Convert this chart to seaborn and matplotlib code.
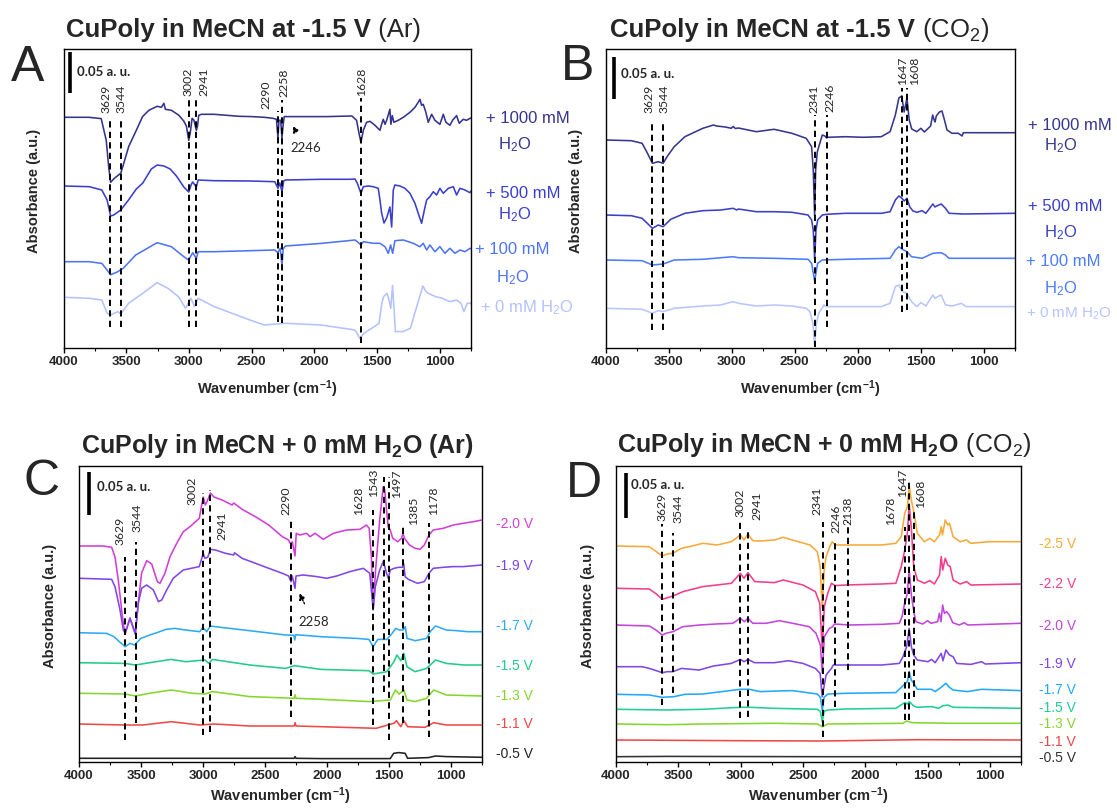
import matplotlib
matplotlib.use("Agg")
import matplotlib.pyplot as plt
import pandas as pd
import seaborn as sns

# ------------------------------------------------------------------ data
UNIT = 0.05 / 42.0          # a.u. per stored unit (0.05 a.u. scale bar = 42 units)
XTICKS = [4000, 3500, 3000, 2500, 2000, 1500, 1000]
XMINOR = [3750, 3250, 2750, 2250, 1750, 1250, 750]

# ---- Panel A : -1.5 V, Ar, water series
A_names = ["+ 1000 mM", "+ 500 mM", "+ 100 mM", "+ 0 mM"]
A_baselines = [230.7, 162, 86.3, 50.7]
A_colors = ["#34348f", "#3a3fcc", "#4f74f2", "#b4c2ff"]
A_1000 = [(4000,0),(3800,0),(3700,-1.3),(3660,-23),(3640,-50),(3625,-65),(3595,-61),(3565,-58),(3544,-56),(3520,-46),
          (3480,-29),(3420,-13),(3370,0.7),(3320,7),(3254,11),(3220,10),(3200,14),(3188,8),(3140,7),(3080,2),(3040,-4),
          (3020,-9),(3002,-23),(2990,-16),(2975,-1),(2960,-3),(2941,-13),(2932,-9),(2922,2),(2900,3),(2800,3),(2700,2),
          (2600,1),(2500,0.7),(2400,0),(2330,-1),(2302,-2),(2290,-21),(2282,-3),(2268,-3),(2258,-21),(2250,-9),(2240,0.7),
          (2100,0.7),(1900,0.7),(1700,1.3),(1663,-3),(1645,-15),(1628,-25),(1609,-13),(1583,-5),(1556,-4),(1516,-8),
          (1476,-13),(1463,-7),(1450,-2),(1436,-7),(1423,-3),(1397,8),(1389,-7),(1378,1.7),(1365,-5),(1330,-3),(1290,0),
          (1237,5),(1197,10),(1171,15),(1157,18),(1144,12),(1131,13),(1110,5),(1091,-5),(1064,3),(1038,-3),(998,-7),
          (971,3),(950,-5),(918,-8),(897,-3),(865,1.7),(844,-6),(812,-2),(785,-3),(758,-1),(750,-1)]
A_500 = [(4000,0),(3795,-0.7),(3695,-4),(3653,-14),(3625,-30),(3600,-29),(3567,-26),(3544,-24),(3482,-14),(3420,-3),
         (3368,3),(3300,17),(3254,21),(3200,20),(3150,17),(3100,10),(3041,-1),(3002,-6),(2980,2),(2970,4),(2941,-1),
         (2927,6),(2799,5.3),(2514,5),(2315,4.3),(2290,-2.3),(2275,3),(2258,-5.7),(2244,5),(2230,6),(1945,6.7),(1716,6.7),
         (1675,7),(1657,2.7),(1628,-7.3),(1609,-0.7),(1569,0),(1530,-0.7),(1490,-2.3),(1476,-14),(1463,-27),(1444,-37),
         (1423,-32),(1397,-21),(1383,-41),(1370,-4),(1357,1),(1317,0),(1277,-2.3),(1237,-7.3),(1197,-17.3),(1171,-27.3),
         (1144,-37.3),(1125,-25.7),(1104,-14),(1078,-10.7),(1051,-5.7),(1024,-9),(998,-2.3),(971,-7.3),(931,-2.3),
         (891,-0.7),(865,-9),(838,-2.3),(798,-4),(758,-6.7),(750,-5)]
A_100 = [(4000,0),(3795,0),(3695,-1.7),(3653,-8.3),(3625,-13),(3567,-10),(3544,-8),(3525,-6.7),(3425,6.7),(3254,19),
         (3140,15),(3041,5),(3002,1.7),(2970,9),(2941,3.3),(2927,10),(2799,10),(2514,11),(2315,11.7),(2290,9),(2272,13.3),
         (2258,-3.3),(2248,13),(2230,15.7),(1945,18.3),(1675,21.7),(1657,20),(1628,16.7),(1609,20),(1530,18.4),
         (1476,18.4),(1436,15),(1410,8.4),(1391,16.7),(1375,8.4),(1357,21),(1290,21.7),(1211,18.4),(1157,15),(1131,18.4),
         (1104,11.7),(1078,16.7),(1038,10),(998,15),(958,8.4),(918,13.4),(878,8.4),(838,11.7),(798,10),(758,13.4),(750,13)]
A_0 = [(4000,0),(3795,-1),(3695,-2.7),(3653,-16),(3625,-17.7),(3567,-14.3),(3544,-16.7),(3482,-6),(3368,4),(3254,14.7),
       (3168,9),(3084,0.7),(3027,-11),(2984,-1),(2956,-9.3),(2927,-1),(2799,-9.3),(2657,-16),(2514,-22.7),(2400,-27.7),
       (2230,-26),(1945,-27.7),(1675,-32.7),(1638,-41),(1604,-36),(1518,-29),(1484,-26),(1460,-5),(1447,0.7),(1419,4),
       (1400,-5),(1390,-11),(1376,12),(1360,-20),(1353,-34.3),(1291,-34.3),(1234,-31),(1191,-12.7),(1134,11.3),(1110,6),
       (1091,4),(1034,0.7),(978,-1),(921,-4.3),(864,-2.7),(830,-6),(807,-14.3),(780,-6),(750,-6)]
A_lines = [3629, 3544, 3002, 2941, 2290, 2258, 1628]
A_line_top = [228, 228, 250, 250, 237, 248, 250]
A_line_bot = [21, 21, 21, 21, 26, 25, 5]
A_lab_x = [3661, 3544, 3005, 2884, 2386, 2244, 1626]
A_lab_y = [235, 235, 252, 252, 239, 251, 252]

# ---- Panel B : -1.5 V, CO2, water series
B_names = ["+ 1000 mM", "+ 500 mM", "+ 100 mM", "+ 0 mM"]
B_baselines = [208, 133, 88, 39.7]
B_colors = ["#36368f", "#3b40c6", "#4c7cff", "#b9c5ff"]
B_1000 = [(4000,0),(3796,-0.7),(3711,-3.3),(3668,-13.3),(3629,-23.3),(3583,-21.7),(3544,-23.3),(3513,-16.7),(3456,-6.7),
          (3371,3.3),(3229,11.7),(3144,15),(3120,14),(3050,13),(3003,11.7),(2988,13.5),(2970,11.5),(2946,12),(2804,8.3),
          (2663,10.7),(2521,6.7),(2408,1.7),(2365,-6.7),(2352,-30),(2341,-76),(2333,-30),(2320,-12),(2300,-3.3),(2280,5),
          (2260,4),(2246,2),(2238,2.7),(2096,3.3),(1954,2.7),(1812,3.3),(1742,8.3),(1700,25),(1672,42),(1650,44),
          (1630,28),(1608,42),(1590,20),(1570,11),(1530,8.3),(1497,11.7),(1470,8),(1420,14),(1404,25),(1392,20),
          (1385,18),(1375,24),(1350,28),(1330,29),(1310,20),(1290,10),(1250,6.7),(1200,6.7),(1170,4),(1160,7.3),
          (1104,7.3),(962,7.3),(750,7.3)]
B_500 = [(4000,0),(3796,-0.7),(3711,-3.3),(3629,-13.3),(3583,-10),(3544,-11.7),(3484,-4.3),(3371,1.7),(3229,4.3),
         (3088,5),(2988,6.7),(2960,5),(2946,6),(2804,3.3),(2663,3.3),(2521,2.7),(2393,0),(2365,-5),(2352,-15),(2341,-44),
         (2330,-15),(2317,-5),(2280,0),(2246,0.7),(2096,1.7),(1812,1.7),(1742,3.3),(1700,15),(1672,19),(1650,17),
         (1630,14),(1608,16.7),(1585,8),(1560,4),(1529,2.7),(1487,4.3),(1458,1.7),(1402,11),(1385,8),(1373,9),
         (1336,11),(1302,6.7),(1274,1.7),(1161,1),(750,1.7)]
B_100 = [(4000,0),(3711,-0.7),(3629,-5),(3544,-4),(3456,0),(3229,0.7),(2988,3.3),(2946,2.3),(2663,1.7),(2393,0.7),
         (2365,-3.3),(2341,-21),(2317,-3.3),(2280,0),(2096,0.7),(1742,1.7),(1700,10),(1672,13.3),(1645,10.7),(1608,8.3),
         (1572,3.3),(1487,1.7),(1402,6.7),(1336,7.3),(1302,5),(1274,1.7),(750,1.7)]
B_0 = [(4000,0),(3711,-1),(3629,-5),(3583,-2.3),(3544,-3.3),(3456,0),(3229,2.3),(3088,3.3),(2988,6.7),(2946,5),
       (2804,2.3),(2663,3.3),(2521,2.3),(2408,0),(2379,-3.3),(2355,-15),(2341,-37),(2327,-15),(2308,-5),(2266,3.3),
       (2252,1.7),(2096,1.7),(1812,1.7),(1742,5),(1700,21.7),(1672,23.3),(1645,16.7),(1608,15),(1572,6.7),(1529,1.7),
       (1497,5.7),(1458,2.3),(1402,13.3),(1385,10),(1373,11),(1336,13.3),(1302,3.3),(1246,2.3),(1175,5),(1140,1.7),
       (750,1.7)]
B_lines = [3629, 3544, 2341, 2246, 1647, 1608]
B_line_top = [225, 225, 233, 233, 260, 260]
B_line_bot = [18, 18, 1, 21, 36, 38]
B_lab_x = [3654, 3535, 2345, 2223, 1647, 1551]
B_lab_y = [235, 235, 235, 236, 263, 263]

# ---- Panel C : 0 mM H2O, Ar, potential series
C_names = ["-2.0 V", "-1.9 V", "-1.7 V", "-1.5 V", "-1.3 V", "-1.1 V", "-0.5 V"]
C_baselines = [216, 183.7, 129.3, 99.3, 68.7, 38, 3.7]
C_colors = ["#d23fd6", "#8046e6", "#2eaaf2", "#22cc8a", "#86d62e", "#f04848", "#222222"]
C_20 = [(4000,0),(3804,0),(3737,-1.3),(3710,-10.7),(3683,-34),(3656,-64),(3640,-80),(3627,-87),(3589,-72),(3546,-87),
        (3522,-57),(3495,-27),(3454,-14.7),(3414,-18),(3368,-35.7),(3347,-37.3),(3307,-27.3),(3266,-10.7),(3212,2.7),
        (3159,14.3),(3105,19.3),(3030,27.7),(3012,40),(2998,49),(2982,41),(2962,46),(2940,53),(2912,49),(2846,46),
        (2765,41),(2752,43),(2685,36.7),(2577,29.3),(2470,21),(2360,9.3),(2310,6),(2290,1),(2280,4.3),(2258,-10),
        (2248,12.7),(2218,11),(2164,12.7),(2137,9.3),(2097,12.7),(2030,6.7),(1949,12.7),(1842,16),(1734,16.7),(1682,21),
        (1660,17.7),(1642,-10.7),(1634,-45),(1626,-60),(1608,-24),(1575,26),(1547,59.3),(1534,56),(1520,36),(1507,19.3),
        (1490,16),(1470,7.7),(1430,4.3),(1400,7.7),(1387,12.7),(1375,7.7),(1335,1),(1290,-2.3),(1250,-3.3),(1215,1),
        (1178,11),(1143,16),(1062,17.7),(981,21),(901,22.7),(820,24.3),(750,26)]
C_19 = [(4000,0),(3737,-1),(3710,-8.3),(3669,-31.7),(3643,-51.7),(3627,-55),(3589,-40),(3546,-56),(3522,-25),(3495,-10),
        (3454,-6.7),(3400,-11.7),(3360,-23.3),(3333,-21.7),(3293,-11.7),(3240,0),(3159,8.3),(3030,11.7),(3010,20),
        (2998,25),(2985,20),(2962,21),(2940,29),(2900,28.3),(2819,25),(2752,23.3),(2746,25.5),(2685,20),(2577,15),
        (2470,10),(2360,5),(2310,2.3),(2290,-3.3),(2280,2.3),(2258,-10),(2250,2.3),(2191,3.3),(2083,1.7),(2002,0),
        (1922,2.3),(1815,6.7),(1707,10),(1655,5),(1640,-15),(1628,-31.7),(1610,-8.3),(1575,8.3),(1547,16.7),(1534,11.7),
        (1520,5),(1505,0),(1490,8.3),(1460,10),(1420,11),(1392,11),(1382,15),(1370,1.7),(1345,-1),(1270,-5),(1215,-3.3),
        (1178,5),(1143,10),(1062,11),(981,11.7),(901,11.7),(750,13.3)]
C_17 = [(4000,0),(3775,-0.7),(3718,-4),(3674,-9),(3629,-14),(3588,-10.7),(3551,-12.3),(3502,-5.7),(3430,-2.3),(3372,0),
        (3300,3.3),(3228,4.3),(3141,2.7),(3026,1),(3002,5.3),(2970,1),(2941,6.7),(2853,5.3),(2623,2),(2335,-2.3),
        (2268,-2.5),(2260,-7.3),(2252,-2),(2047,-4),(1759,-5.7),(1662,-6.7),(1628,-14),(1590,-6.7),(1518,-6.7),
        (1475,-0.7),(1446,4.3),(1417,2.7),(1388,2.7),(1368,6),(1355,-5.7),(1288,-8),(1197,-5.7),(1168,1),(1125,6.7),
        (1038,2.7),(952,2),(865,1),(750,1)]
C_15 = [(4000,0),(3631,-0.7),(3545,-2.3),(3430,0),(3257,3.3),(3141,1),(2983,2.7),(2954,-0.7),(2925,3.3),(2623,-2.3),
        (2335,-5.7),(2262,-3),(2047,-6.7),(1662,-8),(1628,-11.3),(1518,-9),(1460,1),(1436,7.7),(1405,2),(1380,9.3),
        (1355,-4),(1290,-9),(1197,-5.7),(1125,2.7),(1038,-0.7),(894,-2.3),(750,-2.3)]
C_13 = [(4000,0),(3631,-0.7),(3545,-2.7),(3430,0),(3257,3.3),(3084,0),(2983,-0.7),(2925,1.7),(2623,-3.3),(2265,-5),
        (2257,-1.5),(2250,-5),(2047,-6),(1662,-8.3),(1490,-6.7),(1448,3.3),(1418,-0.7),(1380,3.3),(1355,-6.7),
        (1290,-8.3),(1197,-5),(1139,3.3),(1038,-1.7),(750,-2.7)]
C_11 = [(4000,0),(3631,-1),(3486,-1),(3257,2.3),(3026,-1),(2910,0),(2623,-2),(2265,-2),(2257,1.3),(2250,-2),(2047,-2.7),
        (1604,-4.3),(1460,0.7),(1440,3.3),(1405,-2.7),(1380,3.3),(1350,-2.7),(1211,-3.3),(1139,1.3),(1038,-1),(750,-1)]
C_05 = [(4000,0),(2910,0),(2265,0),(2257,1.7),(2250,0),(2047,-0.3),(1490,-0.3),(1462,5),(1420,5.7),(1370,5),(1350,0),
        (1182,0.7),(1125,2.3),(1038,1.7),(750,1)]
C_lines = [3629, 3544, 3002, 2941, 2290, 1628, 1543, 1497, 1385, 1178]
C_line_top = [205, 220, 269, 272, 242, 252, 285, 285, 237, 239]
C_line_bot = [22, 39, 27, 30, 45, 37, 70, 22, 39, 25]
C_lab_x = [3669, 3536, 3091, 2847, 2330, 1749, 1624, 1443, 1304, 1138]
C_lab_y = [217, 230, 257, 222, 247, 247, 265, 264, 237, 247]

# ---- Panel D : 0 mM H2O, CO2, potential series
D_names = ["-2.5 V", "-2.2 V", "-2.0 V", "-1.9 V", "-1.7 V", "-1.5 V", "-1.3 V", "-1.1 V", "-0.5 V"]
D_baselines = [216, 173.7, 137, 95.3, 67.7, 52.7, 38, 22, 5.3]
D_colors = ["#f7a93a", "#f23e8c", "#c445dc", "#8046e6", "#22a8ff", "#1fd091", "#86d62e", "#f04848", "#333333"]
D_25 = [(4000,0),(3733,-0.7),(3676,-5.7),(3629,-10),(3590,-8),(3544,-7.3),(3475,-2.3),(3389,0),(3303,2.7),(3188,1),
        (3074,4.3),(3002,11),(2973,6),(2941,12),(2902,5.3),(2844,5),(2729,6),(2658,8.7),(2586,6),(2443,1),(2385,-5.7),
        (2362,-20),(2345,-62),(2330,-25),(2314,-10.7),(2285,-0.7),(2265,4.3),(2242,1),(2156,1),(2013,1),(1869,1),
        (1754,2.7),(1711,9.3),(1683,32.7),(1662,39),(1647,60),(1630,46),(1608,32.7),(1582,12.7),(1525,4.3),(1482,7.7),
        (1445,4.3),(1404,11),(1390,19.3),(1380,11),(1358,26),(1338,21),(1324,22.7),(1295,9.3),(1238,4.3),(1187,6),
        (1152,2.7),(1009,4.3),(750,4.3)]
D_22 = [(4000,0),(3733,-0.7),(3676,-5.7),(3629,-11),(3576,-9),(3544,-7.7),(3461,-3.3),(3303,1.7),(3074,5),(3002,15),
        (2973,10),(2941,15.7),(2887,6.7),(2729,5.7),(2658,8.3),(2500,3.3),(2400,-3.3),(2365,-15),(2345,-60),(2328,-18),
        (2299,-4.3),(2271,5),(2242,2.7),(2156,3.3),(1869,4.3),(1754,5),(1711,21.7),(1683,38),(1662,55),(1647,84),
        (1630,60),(1611,21.7),(1582,8.3),(1525,5),(1482,7.7),(1445,4.3),(1404,13.3),(1390,31.7),(1378,18.3),(1358,30),
        (1338,23.3),(1318,21.7),(1295,8.3),(1238,4.3),(1187,6.7),(1152,3.3),(750,4.3)]
D_20 = [(4000,0),(3733,-1),(3679,-5),(3629,-10),(3599,-8.3),(3544,-6.7),(3465,-1.7),(3331,0),(3198,1),(3064,1.7),
        (3002,6.7),(2970,3.3),(2941,6.7),(2903,1.7),(2796,1.7),(2689,4.3),(2582,1.7),(2449,-1.7),(2395,-8.3),(2360,-20),
        (2345,-48),(2328,-11.7),(2288,-3.3),(2261,-1.7),(2248,1),(2128,0),(1860,0.7),(1726,1.7),(1705,8.3),(1684,21.7),
        (1665,30),(1647,55),(1630,30),(1608,11.7),(1593,3.3),(1539,1),(1499,4.3),(1472,1.7),(1419,3.3),(1405,11.7),
        (1392,3.3),(1379,20),(1365,11.7),(1347,13.3),(1325,10),(1298,2.3),(1245,0),(1205,2.3),(1178,0),(750,1.7)]
D_19 = [(4000,0),(3791,0),(3733,-1.7),(3676,-4),(3629,-6),(3590,-5),(3544,-5),(3475,-1.7),(3389,-2.7),(3332,-3.3),
        (3217,0.7),(3074,3.3),(3002,7.3),(2973,5),(2941,7.3),(2887,4),(2729,4),(2615,6),(2500,3.3),(2400,-1.7),
        (2362,-6.7),(2345,-30),(2314,-8.3),(2271,-1.7),(2256,1.7),(2156,1.7),(1869,1.7),(1726,3.3),(1697,10),(1668,20),
        (1647,38.3),(1630,20),(1611,11.7),(1582,6.7),(1496,5),(1468,7.3),(1439,4),(1390,13.3),(1376,6),(1353,16.7),
        (1324,11.7),(1295,10),(1267,3.3),(1152,2.3),(1066,5),(1037,2.7),(750,4)]
D_17 = [(4000,0),(3733,-0.7),(3629,-3),(3532,-2.3),(3446,0),(3303,0.3),(3002,5),(2930,5),(2844,2.7),(2586,3.7),
        (2385,0.3),(2360,-3),(2345,-16),(2330,-3),(2299,0.3),(2156,1),(1754,1.7),(1691,9.3),(1662,12.7),(1647,22.7),
        (1630,14),(1611,11),(1582,5),(1468,5),(1439,2.7),(1390,7),(1353,11),(1324,7),(1295,4.3),(1181,2.7),(1066,5),
        (750,3.7)]
D_15 = [(4000,0),(3590,-0.7),(3303,0),(3002,2),(2930,2),(2729,1),(2385,0),(2360,-2),(2345,-12.3),(2330,-2),(2299,-0.7),
        (2156,0.3),(1754,1),(1683,6.7),(1662,5.3),(1647,7.7),(1611,3.3),(1582,2),(1468,2.7),(1410,1),(1382,3.3),
        (1338,4.3),(1295,2),(750,1)]
D_13 = [(4000,0),(3590,-0.7),(3303,0),(2729,0.7),(2385,0),(2345,-2.7),(2299,0),(1697,0.7),(1668,3),(1625,1.3),
        (1295,0.7),(750,0.7)]
D_11 = [(4000,0),(3000,-0.7),(2345,-1),(1582,0.3),(750,0)]
D_05 = [(4000,0),(3590,0.3),(2345,0),(750,0)]
D_lines = [3629, 3544, 3002, 2941, 2341, 2246, 2138, 1678, 1647, 1608]
D_line_top = [238, 229, 240, 230, 240, 220, 240, 235, 282, 254]
D_line_bot = [57, 69, 44, 45, 25, 55, 92, 42, 42, 65]
D_lab_x = [3629, 3501, 3002, 2869, 2390, 2235, 2138, 1793, 1704, 1559]
D_lab_y = [241, 239, 245, 242, 247, 229, 237, 237, 265, 254]

# ------------------------------------------------------------------ style
sns.set_theme(style="white")
plt.rcParams["font.family"] = ["Liberation Sans", "DejaVu Sans"]
plt.rcParams["mathtext.default"] = "regular"

W, H = 1117, 808
fig = plt.figure(figsize=(W / 100, H / 100), dpi=100)
fig.patch.set_facecolor("white")


def fx(px):
    return px / W


def fy(py):
    return 1 - py / H


def panel(rect, names, baselines, colors, traces, height, lines, ltop, lbot, labx, laby,
          bar_x, bar_y0, bar_y1, bar_lab, ylab_x, ylab_y, xlab_y):
    ax = fig.add_axes(rect)
    rows = []
    for name, base, pts in zip(names, baselines, traces):
        for wn, d in pts:
            rows.append((name, wn, (base + d) * UNIT))
    df = pd.DataFrame(rows, columns=["trace", "wn", "absorbance"])
    sns.lineplot(data=df, x="wn", y="absorbance", hue="trace", hue_order=names,
                 palette=dict(zip(names, colors)), estimator=None, sort=False,
                 legend=False, linewidth=1.15, ax=ax)
    ax.set_xlim(4000, 750)
    ax.set_ylim(0, height * UNIT)
    ax.vlines(lines, [b * UNIT for b in lbot], [t * UNIT for t in ltop], colors="black",
              linestyles=(0, (3.2, 2.2)), linewidth=1.4, zorder=4)
    for wn, x, y in zip(lines, labx, laby):
        ax.text(x, y * UNIT, str(wn), rotation=90, ha="center", va="bottom", fontsize=8.8,
                family=["Lato", "DejaVu Sans"], zorder=5)
    ax.plot([bar_x, bar_x], [bar_y0 * UNIT, bar_y1 * UNIT], color="black", lw=2.6,
            solid_capstyle="butt")
    ax.text(bar_lab[0], bar_lab[1] * UNIT, "0.05 a. u.", fontsize=9.5, weight="bold",
            family=["Lato", "DejaVu Sans"], ha="left", va="center")
    ax.set_yticks([])
    ax.set_xticks(XTICKS, labels=[str(t) for t in XTICKS], fontweight="bold", fontsize=9.5)
    ax.set_xticks(XMINOR, minor=True)
    ax.tick_params(axis="x", which="major", direction="out", length=3.5, width=1,
                   color="black", pad=2.5, bottom=True)
    ax.tick_params(axis="x", which="minor", direction="out", length=2, width=0.8,
                   color="black", bottom=True)
    for s in ax.spines.values():
        s.set_color("black")
        s.set_linewidth(1.0)
    ax.set_xlabel("Wavenumber (cm$^{-1}$)", fontsize=10.5, weight="bold")
    ax.xaxis.label.set_va("center")
    ax.xaxis.set_label_coords(0.5, xlab_y)
    ax.set_ylabel("Absorbance (a.u.)", fontsize=10.5, weight="bold")
    ax.yaxis.label.set_va("center")
    ax.yaxis.set_label_coords(ylab_x, ylab_y)
    ax.grid(False)
    return ax


axA = panel([fx(63.6), 1 - 348 / H, 407.4 / W, 299 / H], A_names, A_baselines, A_colors,
            [A_1000, A_500, A_100, A_0], 299, A_lines, A_line_top, A_line_bot, A_lab_x, A_lab_y,
            3952, 255, 296, (3895, 276), -0.073, 0.525, -0.138)
axB = panel([fx(605.7), 1 - 348 / H, 409.3 / W, 299 / H], B_names, B_baselines, B_colors,
            [B_1000, B_500, B_100, B_0], 299, B_lines, B_line_top, B_line_bot, B_lab_x, B_lab_y,
            3932, 249, 291, (3881, 274), -0.072, 0.525, -0.138)
axC = panel([fx(79), 1 - 762 / H, 403 / W, 296 / H], C_names, C_baselines, C_colors,
            [C_20, C_19, C_17, C_15, C_13, C_11, C_05], 296, C_lines, C_line_top, C_line_bot,
            C_lab_x, C_lab_y, 3917, 247, 290, (3857, 275), -0.072, 0.527, -0.117)
axD = panel([fx(616), 1 - 762 / H, 405 / W, 296 / H], D_names, D_baselines, D_colors,
            [D_25, D_22, D_20, D_19, D_17, D_15, D_13, D_11, D_05], 296, D_lines, D_line_top,
            D_line_bot, D_lab_x, D_lab_y, 3920, 244, 289, (3880, 277), -0.068, 0.527, -0.117)

# arrows with labels
axA.annotate("2246", xy=(2171, 222 * UNIT), xytext=(2071, 199.7 * UNIT), ha="center", va="center",
             fontsize=9.5, family=["Lato", "DejaVu Sans"],
             arrowprops=dict(arrowstyle="-|>", linestyle=(0, (1, 1.2)), color="black", lw=1.0,
                             mutation_scale=9, shrinkA=6, shrinkB=0))
axC.annotate("2258", xy=(2223, 168.7 * UNIT), xytext=(2110, 140.3 * UNIT), ha="center", va="center",
             fontsize=9.5, family=["Lato", "DejaVu Sans"],
             arrowprops=dict(arrowstyle="-|>", linestyle=(0, (1, 1.2)), color="black", lw=1.0,
                             mutation_scale=9, shrinkA=7, shrinkB=0))

# right-hand trace labels
A_label_pos = [("+ 1000 mM", 486, 117, 0), ("H$_2$O", 498, 142, 0), ("+ 500 mM", 486, 192, 1),
               ("H$_2$O", 498, 212, 1), ("+ 100 mM", 475, 248, 2), ("H$_2$O", 496, 275, 2),
               ("+ 0 mM H$_2$O", 480, 305, 3)]
for txt, x, y, i in A_label_pos:
    fig.text(fx(x), fy(y), txt, color=A_colors[i], fontsize=12, ha="left", va="center_baseline")
B_label_pos = [("+ 1000 mM", 1028, 124, 0), ("H$_2$O", 1044, 143, 0), ("+ 500 mM", 1028, 205, 1),
               ("H$_2$O", 1044, 230, 1), ("+ 100 mM", 1026, 260, 2), ("H$_2$O", 1044, 286, 2)]
for txt, x, y, i in B_label_pos:
    fig.text(fx(x), fy(y), txt, color=B_colors[i], fontsize=12, ha="left", va="center_baseline")
fig.text(fx(1026), fy(312), "+ 0 mM H$_2$O", color=B_colors[3], fontsize=11, ha="left",
         va="center_baseline")
C_label_y = [523, 565, 625, 664, 694, 723, 753]
for name, y, c in zip(C_names, C_label_y, C_colors):
    fig.text(fx(496), fy(y), name, color=c, fontsize=10, ha="left", va="center_baseline")
D_label_y = [542, 582, 624, 662, 688, 706, 723, 741, 757]
for name, y, c in zip(D_names, D_label_y, D_colors):
    fig.text(fx(1039), fy(y), name, color=c, fontsize=10, ha="left", va="center_baseline")

# panel letters
for letter, x, y in [("A", 28, 68), ("B", 578, 67), ("C", 42, 482), ("D", 584, 484)]:
    fig.text(fx(x), fy(y), letter, fontsize=36, ha="center", va="center")

# titles (bold part + regular part)
renderer = fig.canvas.get_renderer()


def title(x_px, base_px, bold_part, reg_part=None, size=18.5):
    t = fig.text(fx(x_px), fy(base_px), bold_part, fontsize=size, weight="bold",
                 ha="left", va="baseline")
    if reg_part:
        bb = t.get_window_extent(renderer=renderer)
        fig.text(bb.x1 / fig.bbox.width, fy(base_px), reg_part, fontsize=size,
                 ha="left", va="baseline")


title(66, 36.7, "CuPoly in MeCN at -1.5 V", " (Ar)")
title(610, 36.7, "CuPoly in MeCN at -1.5 V", " (CO$_2$)")
title(81, 452.7, "CuPoly in MeCN + 0 mM H$_2$O (Ar)", size=18)
title(617, 451.7, "CuPoly in MeCN + 0 mM H$_2$O", " (CO$_2$)", size=18)

fig.savefig("out.png", dpi=100)
